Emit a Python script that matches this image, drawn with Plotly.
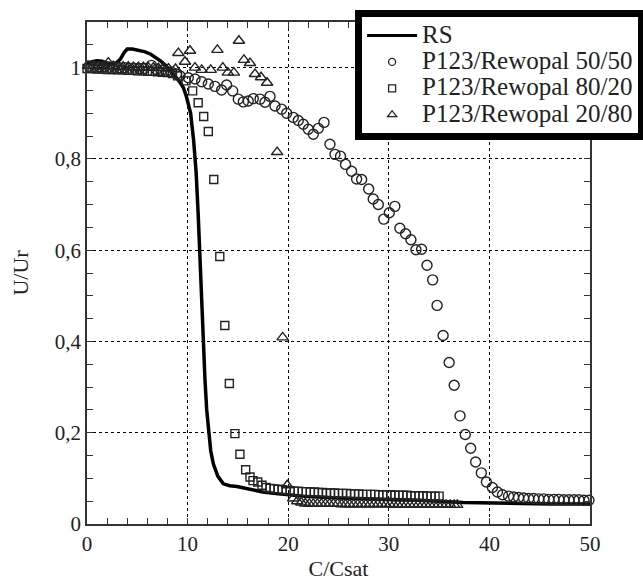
import plotly.graph_objects as go

# ---------------- data ----------------
rs_x = [0, 0.5, 1.0, 1.5, 2.0, 2.5, 2.9, 3.3, 3.7, 4.0, 4.5, 5.0, 5.7, 6.3, 6.8, 7.3, 7.8, 8.3, 8.7, 9.0,
        9.3, 9.6, 9.9, 10.1, 10.3, 10.6, 10.85, 11.05, 11.25, 11.4, 11.57, 11.73, 11.9, 12.06, 12.3, 12.56,
        13.0, 13.55, 14.2, 14.9, 16.0, 17.5, 19.0, 20.2, 22.0, 25.0, 29.0, 33.0, 37.4, 42.0, 46.0, 50.0]
rs_y = [1.008, 1.013, 1.015, 1.014, 1.010, 1.008, 1.010, 1.018, 1.033, 1.041, 1.041, 1.039, 1.035, 1.030,
        1.023, 1.015, 1.005, 0.993, 0.983, 0.975, 0.966, 0.955, 0.935, 0.92, 0.90, 0.84, 0.77, 0.68, 0.56,
        0.49, 0.39, 0.315, 0.25, 0.205, 0.16, 0.132, 0.105, 0.088, 0.084, 0.082, 0.077, 0.070, 0.066, 0.063,
        0.060, 0.057, 0.055, 0.052, 0.047, 0.045, 0.044, 0.044]

c5050_x = [0.2, 0.7, 1.2, 1.7, 2.2, 2.7, 3.2, 3.7, 4.2, 4.7, 5.2, 5.7, 6.4, 6.9, 7.4, 7.9, 8.4, 8.9,
           9.24, 10.07, 10.74, 11.4, 12.06, 12.72, 13.38, 13.88, 14.48, 15.04, 15.54, 16.03, 16.53, 17.2,
           17.69, 18.19, 18.69, 19.35, 19.85, 20.5, 21.0, 21.5, 22.0, 22.5, 23.0, 23.56, 24.15, 24.65,
           25.2, 25.7, 26.3, 26.8, 27.3, 28.0, 28.45, 28.96, 29.5, 30.05, 30.6, 31.1, 31.67, 32.2, 32.7,
           33.26, 33.8, 34.36, 34.8, 35.4, 36.0, 36.5, 37.08, 37.6, 38.14, 38.63, 39.2, 39.7, 40.3, 40.8,
           41.3, 41.9, 42.4, 42.9, 43.4, 43.9, 44.4, 44.9, 45.4, 45.9, 46.4, 46.9, 47.4, 47.9, 48.4, 48.9,
           49.4, 49.9]
c5050_y = [1.003, 1.003, 1.002, 1.002, 1.001, 1.001, 1.0, 1.0, 0.999, 0.999, 0.998, 0.998, 1.005, 0.996,
           0.994, 0.992, 0.990, 0.986,
           0.982, 0.978, 0.975, 0.969, 0.964, 0.959, 0.951, 0.962, 0.949, 0.931, 0.925, 0.927, 0.932, 0.931,
           0.924, 0.937, 0.916, 0.909, 0.900, 0.891, 0.884, 0.876, 0.865, 0.854, 0.867, 0.880, 0.832, 0.810,
           0.806, 0.788, 0.773, 0.756, 0.755, 0.734, 0.712, 0.700, 0.668, 0.682, 0.696, 0.648, 0.636, 0.623,
           0.601, 0.602, 0.567, 0.535, 0.479, 0.413, 0.354, 0.304, 0.237, 0.196, 0.166, 0.136, 0.112, 0.092,
           0.080, 0.070, 0.064, 0.061, 0.059, 0.058, 0.057, 0.056, 0.056, 0.055, 0.055, 0.054, 0.054, 0.054,
           0.053, 0.053, 0.053, 0.053, 0.052, 0.052]

s8020_x = [0.0, 0.5, 1.0, 1.5, 2.0, 2.5, 3.0, 3.5, 4.0, 4.5, 5.0, 5.5, 6.0, 6.5, 7.0, 7.5, 8.0, 8.5, 9.0,
           9.84, 10.5, 11.05, 11.6, 12.06, 12.6, 13.2, 13.7, 14.15, 14.7, 15.2, 15.77, 16.2, 16.5, 16.97, 17.4,
           17.8, 18.2, 18.6, 19.0, 19.4, 19.8, 20.2, 20.6, 21.0, 21.4, 21.8, 22.2, 22.6, 23.0, 23.4, 23.8,
           24.2, 24.6, 25.0, 25.4, 25.8, 26.2, 26.6, 27.0, 27.4, 27.8, 28.2, 28.6, 29.0, 29.4, 29.8, 30.2,
           30.6, 31.0, 31.4, 31.8, 32.2, 32.6, 33.0, 33.4, 33.8, 34.2, 34.6, 35.0]
s8020_y = [0.998, 0.998, 0.997, 0.997, 0.996, 0.996, 0.995, 0.995, 0.994, 0.994, 0.993, 0.993, 0.992,
           0.992, 0.991, 0.990, 0.989, 0.987, 0.982,
           0.971, 0.949, 0.923, 0.893, 0.860, 0.755, 0.586, 0.435, 0.308, 0.198, 0.153, 0.119, 0.103, 0.095,
           0.092, 0.085,
           0.080, 0.078, 0.077, 0.076, 0.075, 0.074, 0.073, 0.072, 0.072, 0.071,
           0.071, 0.070, 0.070, 0.069, 0.069, 0.068, 0.068, 0.068, 0.067, 0.067,
           0.067, 0.066, 0.066, 0.066, 0.065, 0.065, 0.065, 0.065, 0.064, 0.064,
           0.064, 0.064, 0.063, 0.063, 0.063, 0.063, 0.062, 0.062, 0.062, 0.062,
           0.061, 0.061, 0.061, 0.061]

t2080_x = [0.1, 0.6, 1.1, 1.6, 2.12, 2.6, 3.1, 3.6, 4.1, 4.6, 5.1, 5.6, 6.1, 6.6, 7.1, 7.6, 8.1, 8.8,
           9.08, 9.74, 10.24, 10.73, 11.4, 12.3, 12.96, 13.5, 14.0, 14.6, 15.1, 15.6, 16.2, 16.7, 17.3, 17.9,
           18.9, 19.45, 19.9,
           20.5, 20.9, 21.3, 21.7, 22.1, 22.5, 22.9, 23.3, 23.7, 24.1, 24.5, 24.9, 25.3, 25.7, 26.1, 26.5,
           26.9, 27.3, 27.7, 28.1, 28.5, 28.9, 29.3, 29.7, 30.1, 30.5, 30.9, 31.3, 31.7, 32.1, 32.5, 32.9,
           33.3, 33.7, 34.1, 34.5, 34.9, 35.3, 35.7, 36.1, 36.5, 36.8]
t2080_y = [1.004, 1.004, 1.003, 1.003, 1.011, 1.003, 1.002, 1.002, 1.002, 1.001, 1.001, 1.001, 1.000,
           1.000, 0.999, 0.999, 0.998, 0.997,
           1.032, 1.013, 1.037, 1.000, 0.995, 0.995, 1.039, 1.000, 0.989, 0.989, 1.059, 1.017, 1.010, 0.986,
           0.979, 0.967, 0.815, 0.409, 0.085,
           0.056, 0.050, 0.047, 0.045, 0.044, 0.044, 0.044, 0.044, 0.044, 0.044, 0.044, 0.044,
           0.043, 0.043, 0.043, 0.043, 0.043, 0.043, 0.043, 0.043, 0.043, 0.043, 0.043, 0.043, 0.043,
           0.042, 0.042, 0.042, 0.042, 0.042, 0.042, 0.042, 0.042, 0.042, 0.042, 0.042, 0.042, 0.042,
           0.042, 0.042, 0.042, 0.042]

series_names = ["RS", "P123/Rewopal 50/50", "P123/Rewopal 80/20", "P123/Rewopal 20/80"]

# ---------------- figure ----------------
INK = "#222222"
fig = go.Figure()

fig.add_trace(go.Scatter(x=rs_x, y=rs_y, mode="lines", line=dict(color="black", width=3.5),
                         showlegend=False, cliponaxis=False))
fig.add_trace(go.Scatter(x=c5050_x, y=c5050_y, mode="markers", showlegend=False, cliponaxis=False,
                         marker=dict(symbol="circle-open", size=10, color=INK, line=dict(width=1.4, color=INK))))
fig.add_trace(go.Scatter(x=s8020_x, y=s8020_y, mode="markers", showlegend=False, cliponaxis=False,
                         marker=dict(symbol="square-open", size=8, color=INK, line=dict(width=1.4, color=INK))))
fig.add_trace(go.Scatter(x=t2080_x, y=t2080_y, mode="markers", showlegend=False, cliponaxis=False,
                         marker=dict(symbol="triangle-up-open", size=10, color=INK, line=dict(width=1.4, color=INK))))

# legend entries
def lname(s):
    return '<span style="font-size:25px">' + s + '</span>'

fig.add_trace(go.Scatter(x=[None], y=[None], mode="lines", name=lname(series_names[0]),
                         line=dict(color="black", width=3)))
fig.add_trace(go.Scatter(x=[None], y=[None], mode="markers", name=lname(series_names[1]),
                         marker=dict(symbol="circle-open", size=7, color=INK, line=dict(width=1.3, color=INK))))
fig.add_trace(go.Scatter(x=[None], y=[None], mode="markers", name=lname(series_names[2]),
                         marker=dict(symbol="square-open", size=7, color=INK, line=dict(width=1.3, color=INK))))
fig.add_trace(go.Scatter(x=[None], y=[None], mode="markers", name=lname(series_names[3]),
                         marker=dict(symbol="triangle-up-open", size=8, color=INK, line=dict(width=1.3, color=INK))))

axis_common = dict(
    showgrid=True, gridcolor="black", gridwidth=1, griddash="3px,3px",
    showline=True, linecolor="#333333", linewidth=1.5, mirror="ticks",
    ticks="inside", ticklen=6, tickwidth=1.2, tickcolor="#333333",
    zeroline=False, tickfont=dict(size=21, color=INK),
)

fig.update_xaxes(range=[0, 50], tick0=0, dtick=10,
                 minor=dict(dtick=2, ticks="inside", ticklen=6, tickcolor="#333333", showgrid=False),
                 title=dict(text="C/Csat", font=dict(size=22, color=INK), standoff=10),
                 **axis_common)
fig.update_yaxes(range=[0, 1.1], tick0=0, dtick=0.2,
                 minor=dict(dtick=0.05, ticks="inside", ticklen=6, tickcolor="#333333", showgrid=False),
                 title=dict(text="U/Ur", font=dict(size=22, color=INK), standoff=20),
                 **axis_common)

fig.update_layout(
    width=643, height=581,
    margin=dict(l=87, r=53, t=22, b=57, autoexpand=False),
    paper_bgcolor="white", plot_bgcolor="white",
    separators=", ",
    font=dict(family="Liberation Serif", size=21, color=INK),
    legend=dict(x=0.533, y=1.0233, xanchor="left", yanchor="top",
                bgcolor="white", bordercolor="black", borderwidth=7,
                font=dict(size=18, color=INK), itemwidth=50, tracegroupgap=0),
)

fig.write_html("out.html")
